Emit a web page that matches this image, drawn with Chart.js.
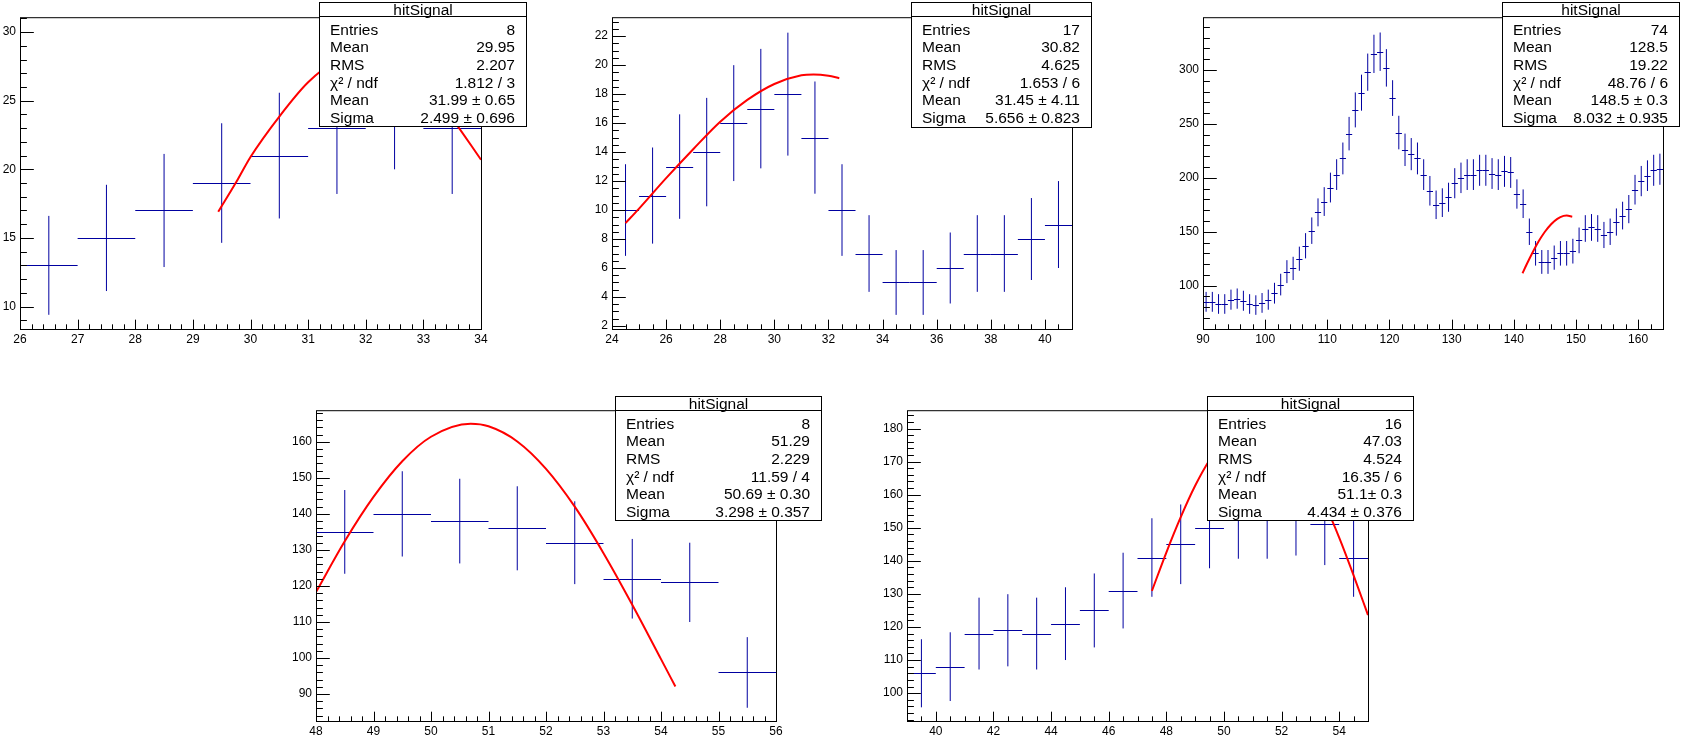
<!DOCTYPE html>
<html>
<head>
<meta charset="utf-8">
<script src="https://cdn.jsdelivr.net/npm/chart.js@4.4.1/dist/chart.umd.min.js"></script>
<style>
  html, body { margin: 0; padding: 0; background: #fff; }
  #page { position: relative; width: 1707px; height: 738px; overflow: hidden; font-family: "Liberation Sans", Arial, sans-serif; }
  #page canvas { position: absolute; }
  .stats { position: absolute; background: #fff; border: 1px solid #000; box-sizing: border-box; font-size: 15.5px; color: #000; }
  .stats .title { height: 13px; line-height: 13px; text-align: center; border-bottom: 1px solid #000; white-space: nowrap; }
  .stats .row { position: absolute; left: 10px; right: 11px; height: 17.6px; line-height: 17.6px; display: flex; justify-content: space-between; white-space: nowrap; }
</style>
</head>
<body>
<div id="page"></div>
<script>
// ---- data (hitSignal, 5 pads) ----
const p1Centers = [26.5, 27.5, 28.5, 29.5, 30.5, 31.5, 32.5, 33.5];
const p1Counts = [13, 15, 17, 19, 21, 23, 25, 23];
const p1FitX = [29.44, 29.75, 30.0, 30.5, 31.0, 31.5, 32.0, 32.5, 33.0, 33.5, 34.0];
const p1FitY = [16.9, 19.05, 20.9, 23.85, 26.35, 27.95, 28.5, 27.9, 26.3, 23.7, 20.7];
const p1XTicks = [26, 27, 28, 29, 30, 31, 32, 33, 34];
const p1YTicks = [10, 15, 20, 25, 30];
const p1Stats = [['Entries', '8'], ['Mean', '29.95'], ['RMS', '2.207'], ['χ² / ndf', '1.812 / 3'], ['Mean', '31.99 ± 0.65'], ['Sigma', '2.499 ± 0.696']];

const p2Centers = [24.5, 25.5, 26.5, 27.5, 28.5, 29.5, 30.5, 31.5, 32.5, 33.5, 34.5, 35.5, 36.5, 37.5, 38.5, 39.5, 40.5];
const p2Counts = [10, 11, 13, 14, 16, 17, 18, 15, 10, 7, 5, 5, 6, 7, 7, 8, 9];
const p2FitX = [24.5, 25, 26, 27, 28, 29, 30, 31, 31.45, 32, 32.4];
const p2FitY = [9.1, 10.1, 12.2, 14.2, 16.1, 17.6, 18.7, 19.3, 19.36, 19.27, 19.1];
const p2XTicks = [24, 26, 28, 30, 32, 34, 36, 38, 40];
const p2YTicks = [2, 4, 6, 8, 10, 12, 14, 16, 18, 20, 22];
const p2Stats = [['Entries', '17'], ['Mean', '30.82'], ['RMS', '4.625'], ['χ² / ndf', '1.653 / 6'], ['Mean', '31.45 ± 4.11'], ['Sigma', '5.656 ± 0.823']];

const p3Centers = [90.5, 91.5, 92.5, 93.5, 94.5, 95.5, 96.5, 97.5, 98.5, 99.5,
  100.5, 101.5, 102.5, 103.5, 104.5, 105.5, 106.5, 107.5, 108.5, 109.5,
  110.5, 111.5, 112.5, 113.5, 114.5, 115.5, 116.5, 117.5, 118.5, 119.5,
  120.5, 121.5, 122.5, 123.5, 124.5, 125.5, 126.5, 127.5, 128.5, 129.5,
  130.5, 131.5, 132.5, 133.5, 134.5, 135.5, 136.5, 137.5, 138.5, 139.5,
  140.5, 141.5, 142.5, 143.5, 144.5, 145.5, 146.5, 147.5, 148.5, 149.5,
  150.5, 151.5, 152.5, 153.5, 154.5, 155.5, 156.5, 157.5, 158.5, 159.5,
  160.5, 161.5, 162.5, 163.5];
const p3Counts = [85, 85, 83, 83, 87, 88, 86, 83, 82, 84,
  87, 93, 101, 113, 116, 125, 137, 151, 168, 178,
  191, 203, 218, 241, 263, 279, 298, 315, 317, 302,
  274, 242, 226, 222, 218, 203, 188, 175, 177, 182,
  195, 200, 203, 203, 207, 207, 204, 203, 206, 205,
  185, 176, 150, 130, 122, 122, 126, 130, 130, 132,
  142, 153, 154, 153, 147, 150, 159, 165, 171, 189,
  197, 202, 207, 208];
const p3FitX = [141.4, 142, 143, 144, 145, 146, 147, 148, 148.5, 149.4];
const p3FitY = [111.5, 118.9, 130.5, 141.1, 150.0, 157.0, 162.0, 164.7, 165.0, 164.0];
const p3XTicks = [90, 100, 110, 120, 130, 140, 150, 160];
const p3YTicks = [100, 150, 200, 250, 300];
const p3Stats = [['Entries', '74'], ['Mean', '128.5'], ['RMS', '19.22'], ['χ² / ndf', '48.76 / 6'], ['Mean', '148.5 ± 0.3'], ['Sigma', '8.032 ± 0.935']];

const p4Centers = [48.5, 49.5, 50.5, 51.5, 52.5, 53.5, 54.5, 55.5];
const p4Counts = [135, 140, 138, 136, 132, 122, 121, 96];
const p4FitX = [48, 48.5, 49, 49.5, 50, 50.69, 51, 51.5, 52, 52.5, 53, 53.5, 54, 54.25];
const p4FitY = [118.3, 132.4, 144.7, 154.6, 161.4, 165.0, 164.3, 160.1, 152.5, 142.0, 129.1, 114.8, 99.7, 92.1];
const p4XTicks = [48, 49, 50, 51, 52, 53, 54, 55, 56];
const p4YTicks = [90, 100, 110, 120, 130, 140, 150, 160];
const p4Stats = [['Entries', '8'], ['Mean', '51.29'], ['RMS', '2.229'], ['χ² / ndf', '11.59 / 4'], ['Mean', '50.69 ± 0.30'], ['Sigma', '3.298 ± 0.357']];

const p5Centers = [39.5, 40.5, 41.5, 42.5, 43.5, 44.5, 45.5, 46.5, 47.5, 48.5, 49.5, 50.5, 51.5, 52.5, 53.5, 54.5];
const p5Counts = [106, 108, 118, 119, 118, 121, 125, 131, 141, 145, 150, 153, 153, 154, 151, 141];
const p5FitX = [47.5, 48, 48.5, 49, 49.5, 50, 50.5, 51.1, 51.5, 52, 52.5, 53, 53.5, 54, 54.5, 55];
const p5FitY = [130.9, 142.5, 153.2, 162.7, 170.5, 176.5, 180.3, 182.0, 181.3, 178.3, 173.1, 166.0, 157.2, 147.0, 135.6, 123.6];
const p5XTicks = [40, 42, 44, 46, 48, 50, 52, 54];
const p5YTicks = [100, 110, 120, 130, 140, 150, 160, 170, 180];
const p5Stats = [['Entries', '16'], ['Mean', '47.03'], ['RMS', '4.524'], ['χ² / ndf', '16.35 / 6'], ['Mean', '51.1± 0.3'], ['Sigma', '4.434 ± 0.376']];

const HIST_COLOR = '#0000a0';
const FIT_COLOR = '#ff0000';
const FONT = '"Liberation Sans", Arial, sans-serif';

// pad layout: frame (plot box) and stats box in page pixels
const pads = [
  { centers: p1Centers, counts: p1Counts, fitX: p1FitX, fitY: p1FitY, xTicks: p1XTicks, yTicks: p1YTicks, stats: p1Stats,
    x: [26, 34], y: [8.36, 31.09], xMinor: 0.2, yMinor: 1,
    frame: { l: 20, t: 16, r: 481, b: 329 }, box: { l: 319, t: 2, r: 527, b: 127 } },
  { centers: p2Centers, counts: p2Counts, fitX: p2FitX, fitY: p2FitY, xTicks: p2XTicks, yTicks: p2YTicks, stats: p2Stats,
    x: [24, 41], y: [1.79, 23.31], xMinor: 0.5, yMinor: 0.5,
    frame: { l: 612, t: 16, r: 1072, b: 329 }, box: { l: 911, t: 2, r: 1092, b: 128 } },
  { centers: p3Centers, counts: p3Counts, fitX: p3FitX, fitY: p3FitY, xTicks: p3XTicks, yTicks: p3YTicks, stats: p3Stats,
    x: [90, 164], y: [59.8, 349], xMinor: 2, yMinor: 10,
    frame: { l: 1203, t: 16, r: 1663, b: 329 }, box: { l: 1502, t: 2, r: 1680, b: 127 } },
  { centers: p4Centers, counts: p4Counts, fitX: p4FitX, fitY: p4FitY, xTicks: p4XTicks, yTicks: p4YTicks, stats: p4Stats,
    x: [48, 56], y: [82.53, 168.77], xMinor: 0.2, yMinor: 2,
    frame: { l: 316, t: 409, r: 776, b: 721 }, box: { l: 615, t: 396, r: 822, b: 521 } },
  { centers: p5Centers, counts: p5Counts, fitX: p5FitX, fitY: p5FitY, xTicks: p5XTicks, yTicks: p5YTicks, stats: p5Stats,
    x: [39, 55], y: [91.57, 185.54], xMinor: 0.5, yMinor: 2,
    frame: { l: 907, t: 409, r: 1368, b: 721 }, box: { l: 1207, t: 396, r: 1414, b: 521 } },
];

const PAD_L = 50, PAD_T = 10, PAD_R = 10, PAD_B = 30;

function minorValues(min, max, step) {
  const out = [];
  const n0 = Math.ceil(min / step - 1e-9), n1 = Math.floor(max / step + 1e-9);
  for (let n = n0; n <= n1; n++) out.push(n * step);
  return out;
}

// ROOT-like drawing: error-bar crosses, frame and inward ticks
const rootStyle = {
  id: 'rootStyle',
  beforeDatasetsDraw(chart, args, opts) {
    const { ctx, chartArea: a, scales: { x, y } } = chart;
    const pts = chart.data.datasets[0].data;
    const half = (pts[1].x - pts[0].x) / 2;
    ctx.save();
    ctx.beginPath();
    ctx.rect(a.left, a.top, a.right - a.left, a.bottom - a.top);
    ctx.clip();
    ctx.strokeStyle = HIST_COLOR;
    ctx.lineWidth = 1;
    ctx.beginPath();
    pts.forEach(p => {
      const err = Math.sqrt(p.y);
      const cx = x.getPixelForValue(p.x);
      const cy = Math.round(y.getPixelForValue(p.y)) + 0.5;
      ctx.moveTo(x.getPixelForValue(p.x - half), cy);
      ctx.lineTo(x.getPixelForValue(p.x + half), cy);
      ctx.moveTo(cx, y.getPixelForValue(p.y - err));
      ctx.lineTo(cx, y.getPixelForValue(p.y + err));
    });
    ctx.stroke();
    ctx.restore();
  },
  afterDraw(chart, args, opts) {
    const { ctx, chartArea: a, scales: { x, y } } = chart;
    const w = a.right - a.left, h = a.bottom - a.top;
    const xMaj = 0.03 * h, yMaj = 0.03 * w;
    ctx.save();
    ctx.strokeStyle = '#000';
    ctx.lineWidth = 1;
    ctx.strokeRect(a.left + 0.5, a.top + 0.5, w, h);
    ctx.beginPath();
    minorValues(x.min, x.max, opts.xMinor).forEach(v => {
      const px = Math.round(x.getPixelForValue(v)) + 0.5;
      const len = opts.xMajor.some(m => Math.abs(m - v) < 1e-6) ? xMaj : xMaj / 2;
      ctx.moveTo(px, a.bottom);
      ctx.lineTo(px, a.bottom - len);
    });
    minorValues(y.min, y.max, opts.yMinor).forEach(v => {
      const py = Math.round(y.getPixelForValue(v)) + 0.5;
      const len = opts.yMajor.some(m => Math.abs(m - v) < 1e-6) ? yMaj : yMaj / 2;
      ctx.moveTo(a.left, py);
      ctx.lineTo(a.left + len, py);
    });
    ctx.stroke();
    ctx.restore();
  },
};

const page = document.getElementById('page');

pads.forEach((pad, idx) => {
  const f = pad.frame;
  const canvas = document.createElement('canvas');
  const cw = (f.r - f.l) + PAD_L + PAD_R;
  const chh = (f.b - f.t) + PAD_T + PAD_B;
  canvas.width = cw;
  canvas.height = chh;
  canvas.style.left = (f.l - PAD_L) + 'px';
  canvas.style.top = (f.t - PAD_T) + 'px';
  canvas.style.width = cw + 'px';
  canvas.style.height = chh + 'px';
  page.appendChild(canvas);

  const hist = pad.centers.map((c, i) => ({ x: c, y: pad.counts[i] }));
  const fit = pad.fitX.map((v, i) => ({ x: v, y: pad.fitY[i] }));

  new Chart(canvas.getContext('2d'), {
    type: 'scatter',
    data: {
      datasets: [
        { label: 'hitSignal', data: hist, pointRadius: 0, showLine: false, borderColor: HIST_COLOR },
        { label: 'gaus', data: fit, showLine: true, pointRadius: 0, borderColor: FIT_COLOR, borderWidth: 2,
          cubicInterpolationMode: 'monotone', fill: false },
      ],
    },
    options: {
      responsive: false,
      animation: false,
      devicePixelRatio: 1,
      layout: { padding: { left: 0, top: PAD_T, right: PAD_R, bottom: 0 } },
      plugins: {
        legend: { display: false },
        tooltip: { enabled: false },
        rootStyle: { xMinor: pad.xMinor, yMinor: pad.yMinor, xMajor: pad.xTicks, yMajor: pad.yTicks },
      },
      scales: {
        x: {
          type: 'linear', min: pad.x[0], max: pad.x[1],
          grid: { display: false, drawTicks: false },
          border: { display: false },
          afterBuildTicks: s => { s.ticks = pad.xTicks.map(v => ({ value: v })); },
          afterFit: s => { s.height = PAD_B; },
          ticks: { autoSkip: false, maxRotation: 0, padding: 3, color: '#000', font: { family: FONT, size: 12 } },
        },
        y: {
          type: 'linear', min: pad.y[0], max: pad.y[1],
          grid: { display: false, drawTicks: false },
          border: { display: false },
          afterBuildTicks: s => { s.ticks = pad.yTicks.map(v => ({ value: v })); },
          afterFit: s => { s.width = PAD_L; },
          ticks: { autoSkip: false, padding: 4, color: '#000', font: { family: FONT, size: 12 } },
        },
      },
    },
    plugins: [rootStyle],
  });

  // stats box (ROOT TPaveStats look)
  const b = pad.box;
  const box = document.createElement('div');
  box.className = 'stats';
  box.style.left = b.l + 'px';
  box.style.top = b.t + 'px';
  box.style.width = (b.r - b.l) + 'px';
  box.style.height = (b.b - b.t) + 'px';
  const title = document.createElement('div');
  title.className = 'title';
  title.textContent = 'hitSignal';
  box.appendChild(title);
  pad.stats.forEach((row, i) => {
    const r = document.createElement('div');
    r.className = 'row';
    r.style.top = (17.8 + 17.6 * i) + 'px';
    const k = document.createElement('span');
    k.textContent = row[0];
    const v = document.createElement('span');
    v.textContent = row[1];
    r.appendChild(k);
    r.appendChild(v);
    box.appendChild(r);
  });
  page.appendChild(box);
});
</script>
</body>
</html>
